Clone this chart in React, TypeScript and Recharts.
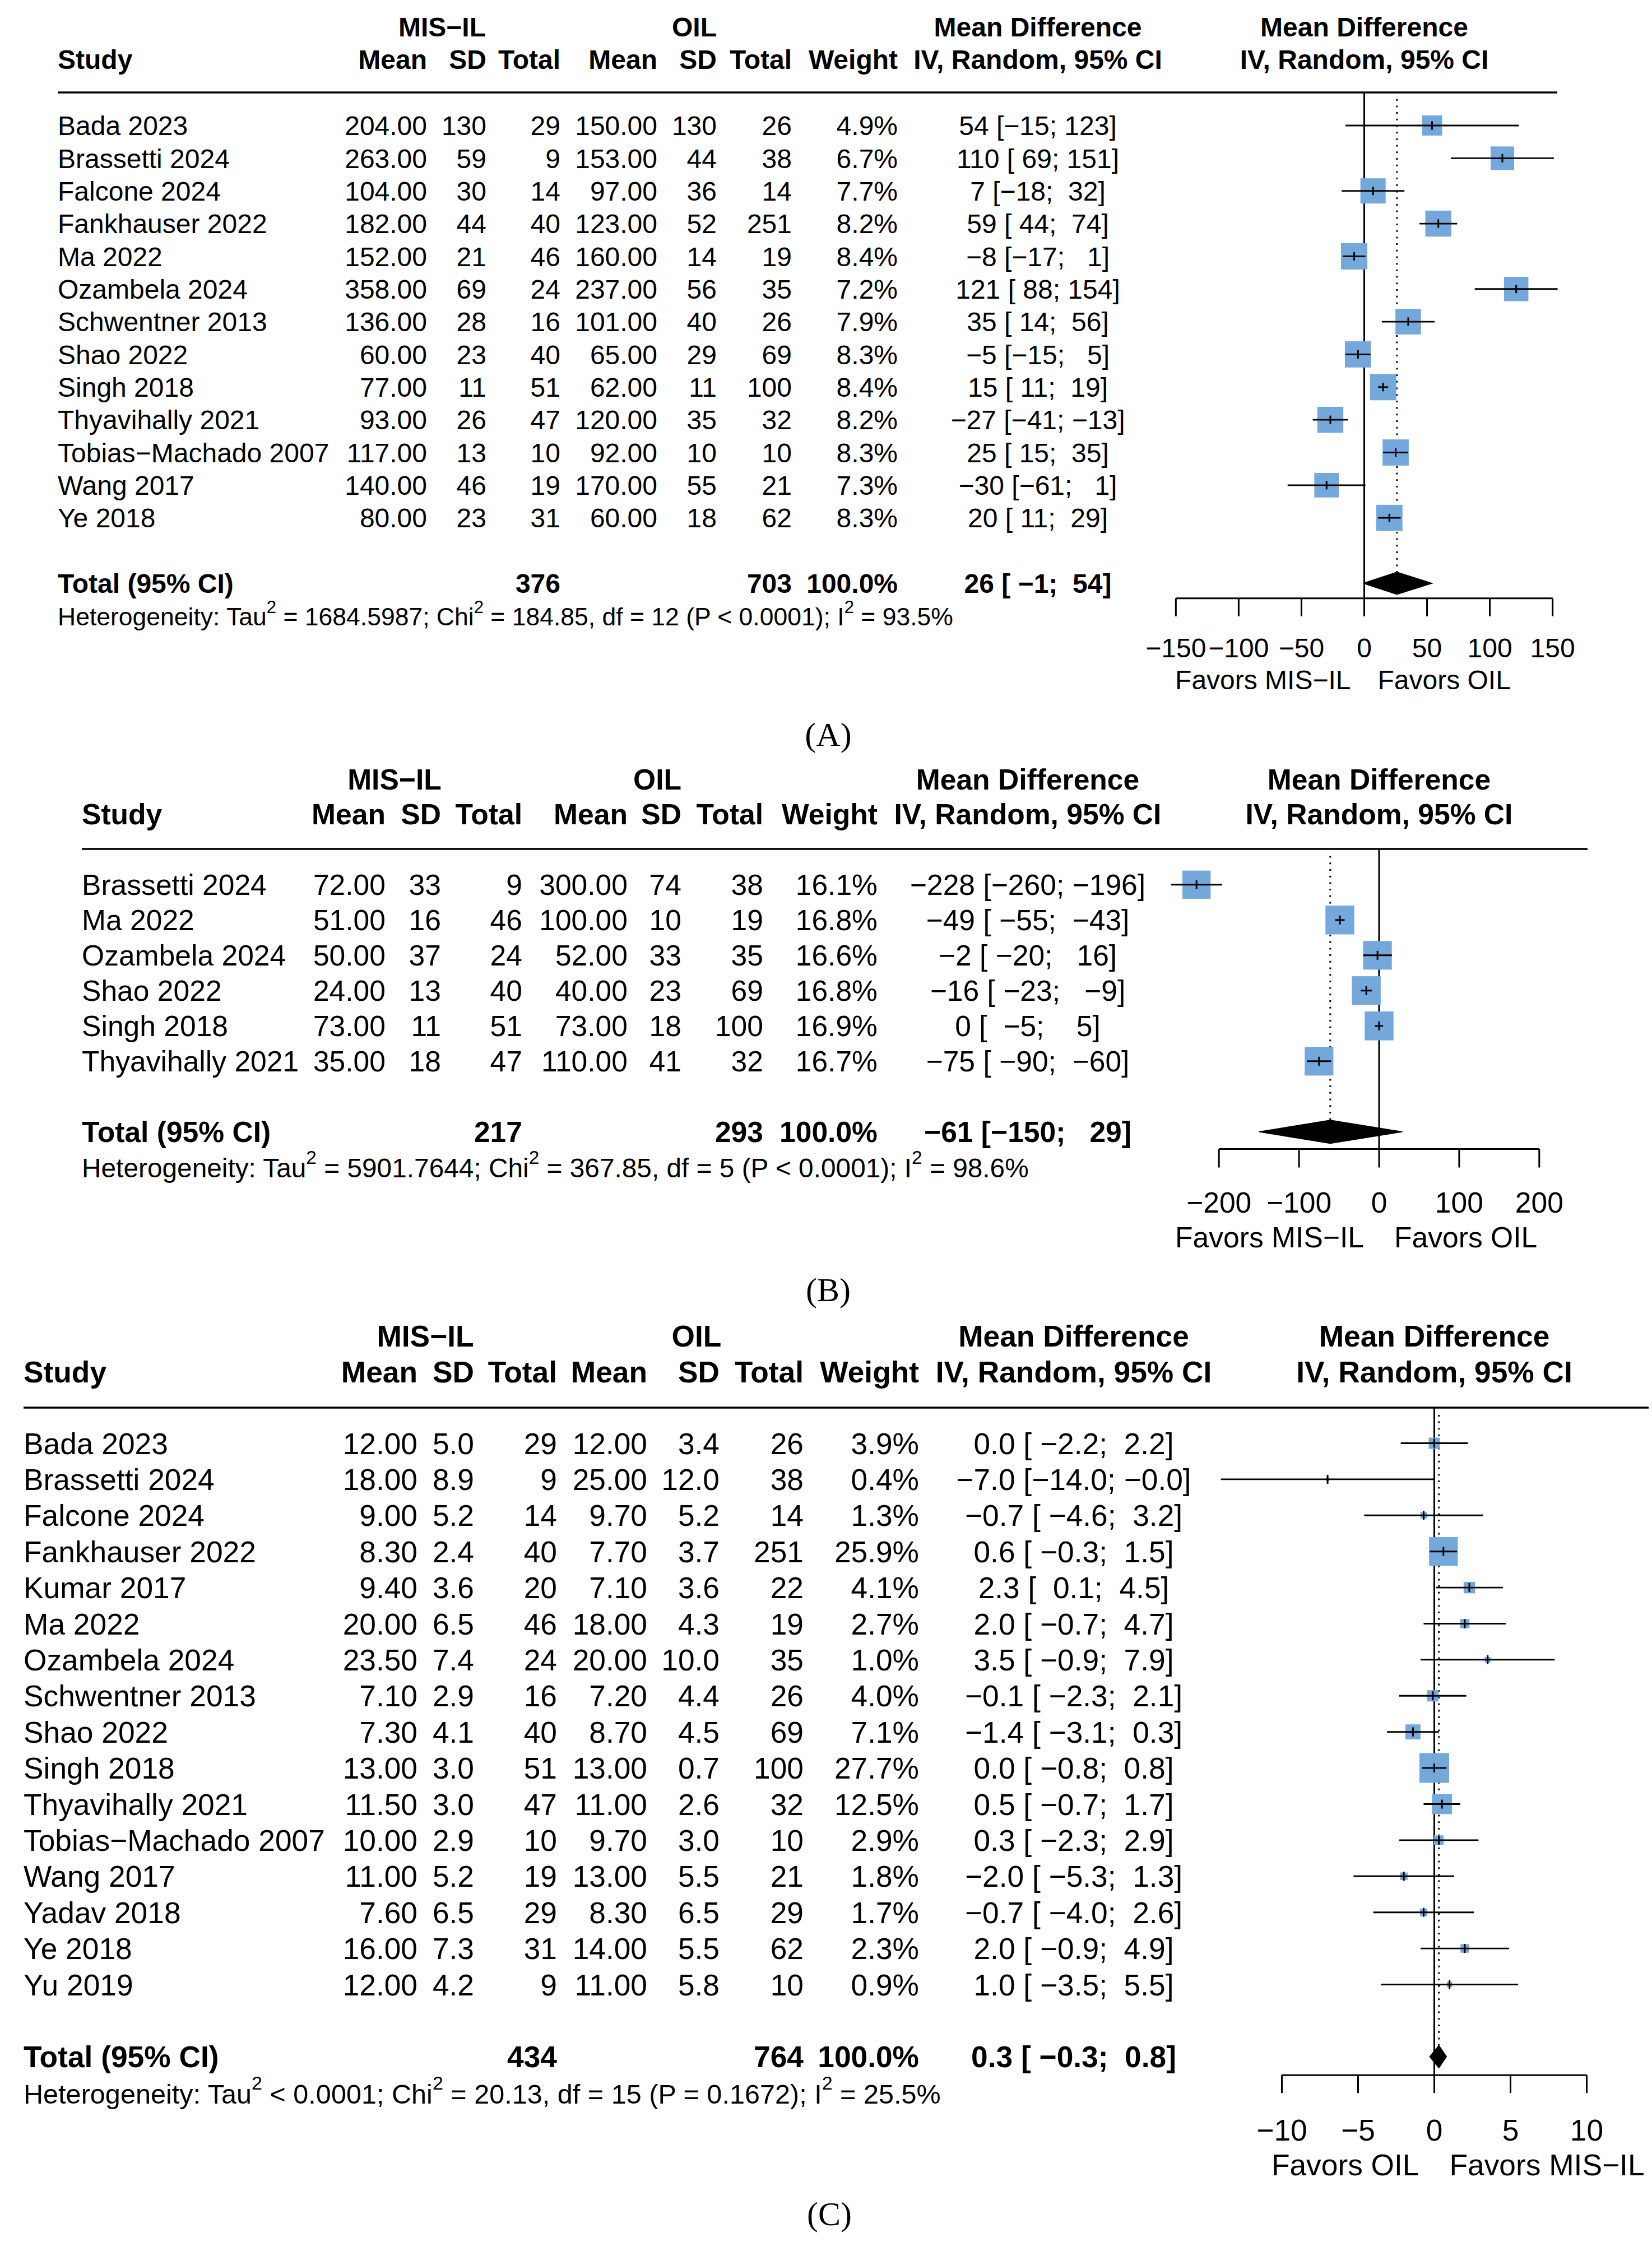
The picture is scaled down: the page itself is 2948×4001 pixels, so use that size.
import React from 'react';
import { ComposedChart, Scatter, XAxis, YAxis, ReferenceLine } from 'recharts';

const MINUS = '\u2212';
const FONT = '"Liberation Sans", Arimo, Arial, Helvetica, sans-serif';
const SERIF = '"Liberation Serif", "Times New Roman", Times, serif';
const SQUARE_FILL = '#74a7da';
const PAGE_W = 2948;

// ---------- shared labels ----------
const GROUP_HEADS = ['MIS' + MINUS + 'IL', 'OIL'];
const COL_HEADS = ['Mean', 'SD', 'Total', 'Mean', 'SD', 'Total', 'Weight'];
const MD_HEADS = ['Mean Difference', 'IV, Random, 95% CI'];
const TOTAL_LABEL = 'Total (95% CI)';
const TOTAL_WEIGHT = '100.0%';

// ---------- Panel A ----------
const A_STUDY = ['Bada 2023', 'Brassetti 2024', 'Falcone 2024', 'Fankhauser 2022', 'Ma 2022', 'Ozambela 2024',
  'Schwentner 2013', 'Shao 2022', 'Singh 2018', 'Thyavihally 2021', 'Tobias' + MINUS + 'Machado 2007', 'Wang 2017', 'Ye 2018'];
const A_M1 = [204, 263, 104, 182, 152, 358, 136, 60, 77, 93, 117, 140, 80];
const A_S1 = [130, 59, 30, 44, 21, 69, 28, 23, 11, 26, 13, 46, 23];
const A_N1 = [29, 9, 14, 40, 46, 24, 16, 40, 51, 47, 10, 19, 31];
const A_M2 = [150, 153, 97, 123, 160, 237, 101, 65, 62, 120, 92, 170, 60];
const A_S2 = [130, 44, 36, 52, 14, 56, 40, 29, 11, 35, 10, 55, 18];
const A_N2 = [26, 38, 14, 251, 19, 35, 26, 69, 100, 32, 10, 21, 62];
const A_W = [4.9, 6.7, 7.7, 8.2, 8.4, 7.2, 7.9, 8.3, 8.4, 8.2, 8.3, 7.3, 8.3];
const A_MD = [54, 110, 7, 59, -8, 121, 35, -5, 15, -27, 25, -30, 20];
const A_LO = [-15, 69, -18, 44, -17, 88, 14, -15, 11, -41, 15, -61, 11];
const A_HI = [123, 151, 32, 74, 1, 154, 56, 5, 19, -13, 35, 1, 29];
const A_TOTAL_N = [376, 703];
const A_POOLED = [26, -1, 54];
const A_HET = ['= 1684.5987', '184.85', '12', '< 0.0001', '93.5%'];
const A_TICKS = [-150, -100, -50, 0, 50, 100, 150];
const A_FAVORS = ['Favors MIS' + MINUS + 'IL', 'Favors OIL'];

// ---------- Panel B ----------
const B_STUDY = ['Brassetti 2024', 'Ma 2022', 'Ozambela 2024', 'Shao 2022', 'Singh 2018', 'Thyavihally 2021'];
const B_M1 = [72, 51, 50, 24, 73, 35];
const B_S1 = [33, 16, 37, 13, 11, 18];
const B_N1 = [9, 46, 24, 40, 51, 47];
const B_M2 = [300, 100, 52, 40, 73, 110];
const B_S2 = [74, 10, 33, 23, 18, 41];
const B_N2 = [38, 19, 35, 69, 100, 32];
const B_W = [16.1, 16.8, 16.6, 16.8, 16.9, 16.7];
const B_MD = [-228, -49, -2, -16, 0, -75];
const B_LO = [-260, -55, -20, -23, -5, -90];
const B_HI = [-196, -43, 16, -9, 5, -60];
const B_TOTAL_N = [217, 293];
const B_POOLED = [-61, -150, 29];
const B_HET = ['= 5901.7644', '367.85', '5', '< 0.0001', '98.6%'];
const B_TICKS = [-200, -100, 0, 100, 200];
const B_FAVORS = ['Favors MIS' + MINUS + 'IL', 'Favors OIL'];

// ---------- Panel C ----------
const C_STUDY = ['Bada 2023', 'Brassetti 2024', 'Falcone 2024', 'Fankhauser 2022', 'Kumar 2017', 'Ma 2022',
  'Ozambela 2024', 'Schwentner 2013', 'Shao 2022', 'Singh 2018', 'Thyavihally 2021', 'Tobias' + MINUS + 'Machado 2007',
  'Wang 2017', 'Yadav 2018', 'Ye 2018', 'Yu 2019'];
const C_M1 = [12.0, 18.0, 9.0, 8.3, 9.4, 20.0, 23.5, 7.1, 7.3, 13.0, 11.5, 10.0, 11.0, 7.6, 16.0, 12.0];
const C_S1 = [5.0, 8.9, 5.2, 2.4, 3.6, 6.5, 7.4, 2.9, 4.1, 3.0, 3.0, 2.9, 5.2, 6.5, 7.3, 4.2];
const C_N1 = [29, 9, 14, 40, 20, 46, 24, 16, 40, 51, 47, 10, 19, 29, 31, 9];
const C_M2 = [12.0, 25.0, 9.7, 7.7, 7.1, 18.0, 20.0, 7.2, 8.7, 13.0, 11.0, 9.7, 13.0, 8.3, 14.0, 11.0];
const C_S2 = [3.4, 12.0, 5.2, 3.7, 3.6, 4.3, 10.0, 4.4, 4.5, 0.7, 2.6, 3.0, 5.5, 6.5, 5.5, 5.8];
const C_N2 = [26, 38, 14, 251, 22, 19, 35, 26, 69, 100, 32, 10, 21, 29, 62, 10];
const C_W = [3.9, 0.4, 1.3, 25.9, 4.1, 2.7, 1.0, 4.0, 7.1, 27.7, 12.5, 2.9, 1.8, 1.7, 2.3, 0.9];
const C_MD = [0.0, -7.0, -0.7, 0.6, 2.3, 2.0, 3.5, -0.1, -1.4, 0.0, 0.5, 0.3, -2.0, -0.7, 2.0, 1.0];
const C_LO = [-2.2, -14.0, -4.6, -0.3, 0.1, -0.7, -0.9, -2.3, -3.1, -0.8, -0.7, -2.3, -5.3, -4.0, -0.9, -3.5];
const C_HI = [2.2, -0.04, 3.2, 1.5, 4.5, 4.7, 7.9, 2.1, 0.3, 0.8, 1.7, 2.9, 1.3, 2.6, 4.9, 5.5];
const C_TOTAL_N = [434, 764];
const C_POOLED = [0.3, -0.3, 0.8];
const C_HET = ['< 0.0001', '20.13', '15', '= 0.1672', '25.5%'];
const C_TICKS = [-10, -5, 0, 5, 10];
const C_FAVORS = ['Favors OIL', 'Favors MIS' + MINUS + 'IL'];

// ---------- helpers ----------
const sgn = (s: string) => s.replace(/-/g, MINUS);
const fx = (v: number, d: number) => sgn(v.toFixed(d));
const padL = (s: string, n: number) => ' '.repeat(Math.max(0, n - s.length)) + s;
const fmtTick = (v: number) => (v < 0 ? MINUS + Math.abs(v) : String(v));

function buildCI(md: number[], lo: number[], hi: number[], pooled: number[], d: number) {
  const los = [...lo, pooled[1]].map((v) => fx(v, d));
  const his = [...hi, pooled[2]].map((v) => fx(v, d));
  const wl = Math.max(...los.map((s) => s.length));
  const wh = Math.max(...his.map((s) => s.length));
  const mds = [...md, pooled[0]].map((v) => fx(v, d));
  return mds.map((m, i) => `${m} [${padL(los[i], wl)}; ${padL(his[i], wh)}]`);
}

type PanelData = {
  study: string[]; m1: number[]; s1: number[]; n1: number[]; m2: number[]; s2: number[]; n2: number[];
  w: number[]; md: number[]; lo: number[]; hi: number[]; totalN: number[]; pooled: number[]; het: string[];
  ticks: number[]; favors: string[]; caption: string; sdDec: number; mdDec: number;
};

const DATA_A: PanelData = { study: A_STUDY, m1: A_M1, s1: A_S1, n1: A_N1, m2: A_M2, s2: A_S2, n2: A_N2, w: A_W, md: A_MD, lo: A_LO, hi: A_HI, totalN: A_TOTAL_N, pooled: A_POOLED, het: A_HET, ticks: A_TICKS, favors: A_FAVORS, caption: '(A)', sdDec: 0, mdDec: 0 };
const DATA_B: PanelData = { study: B_STUDY, m1: B_M1, s1: B_S1, n1: B_N1, m2: B_M2, s2: B_S2, n2: B_N2, w: B_W, md: B_MD, lo: B_LO, hi: B_HI, totalN: B_TOTAL_N, pooled: B_POOLED, het: B_HET, ticks: B_TICKS, favors: B_FAVORS, caption: '(B)', sdDec: 0, mdDec: 0 };
const DATA_C: PanelData = { study: C_STUDY, m1: C_M1, s1: C_S1, n1: C_N1, m2: C_M2, s2: C_S2, n2: C_N2, w: C_W, md: C_MD, lo: C_LO, hi: C_HI, totalN: C_TOTAL_N, pooled: C_POOLED, het: C_HET, ticks: C_TICKS, favors: C_FAVORS, caption: '(C)', sdDec: 1, mdDec: 1 };

// ---------- layout (pixels) ----------
const LAYOUT_A = {
  top: 0, height: 1350, fs: 48, hetFs: 44.5, capFs: 60,
  zeroPx: 2434.5, ppu: 2.241, dom: [-150, 156],
  row0: 224, rowH: 58.35, yMin: -1.011, yMax: 14.46, totalRow: 14,
  studyX: 103, cols: [762, 868, 1000, 1173, 1279, 1413, 1602], mdX: 1852, grp: [789, 1239],
  head1: 100, head2: 42, ruleX: [103, 2779],
  tickSize: 32, tickMargin: 39, favorsDy: 189, favorsGap: 24, captionDy: 290, captionX: 1478,
  maxSide: 47, dH: 0.34, lw: 2.8, tickHalf: 7.5,
};
const LAYOUT_B = {
  top: 1350, height: 990, fs: 51.6, hetFs: 47.8, capFs: 60,
  zeroPx: 2461, ppu: 1.429, dom: [-262, 200],
  row0: 1578.8, rowH: 63.0, yMin: -1.013, yMax: 7.487, totalRow: 7,
  studyX: 146, cols: [688, 787, 932, 1120, 1216, 1362, 1566], mdX: 1834, grp: [704, 1173],
  head1: 105.5, head2: 43.5, ruleX: [146, 2833],
  tickSize: 33, tickMargin: 44, favorsDy: 206, favorsGap: 27, captionDy: 302, captionX: 1478,
  maxSide: 51.5, dH: 0.33, lw: 2.9, tickHalf: 8,
};
const LAYOUT_C = {
  top: 2340, height: 1661, fs: 53.3, hetFs: 48.6, capFs: 60,
  zeroPx: 2559.5, ppu: 27.2, dom: [-14.2, 10],
  row0: 2575.5, rowH: 64.4, yMin: -0.986, yMax: 17.51, totalRow: 17,
  studyX: 42, cols: [745, 846, 994, 1155, 1284, 1434, 1640], mdX: 1916, grp: [759, 1243],
  head1: 109, head2: 45, ruleX: [42, 2942],
  tickSize: 32, tickMargin: 47, favorsDy: 212, favorsGap: 27, captionDy: 301, captionX: 1480,
  maxSide: 53, dH: 0.31, lw: 2.9, tickHalf: 8,
};

type Layout = typeof LAYOUT_A;

function HetText({ x, y, fs, het }: { x: number; y: number; fs: number; het: string[] }) {
  const sup = fs * 0.7;
  const up = fs * 0.5;
  return (
    <text x={x} y={y} fontFamily={FONT} fontSize={fs} fill="#000" style={{ whiteSpace: 'pre' }}>
      <tspan>Heterogeneity: Tau</tspan>
      <tspan dy={-up} fontSize={sup}>2</tspan>
      <tspan dy={up}>{` ${het[0]}; Chi`}</tspan>
      <tspan dy={-up} fontSize={sup}>2</tspan>
      <tspan dy={up}>{` = ${het[1]}, df = ${het[2]} (P ${het[3]}); I`}</tspan>
      <tspan dy={-up} fontSize={sup}>2</tspan>
      <tspan dy={up}>{` = ${het[4]}`}</tspan>
    </text>
  );
}

function TextRow({ p, L, D, ci }: { p: any; L: Layout; D: PanelData; ci: string[] }) {
  const { cx, cy, payload } = p;
  const fs = L.fs;
  const base = cy + 0.358 * fs;
  const common: any = { fontFamily: FONT, fontSize: fs, fill: '#000', style: { whiteSpace: 'pre' } };
  const bold: any = { ...common, fontWeight: 'bold' };
  if (payload.kind === 'h') {
    const b1 = cy - L.head1;
    const b2 = cy - L.head2;
    return (
      <g>
        <line x1={L.ruleX[0]} x2={L.ruleX[1]} y1={cy} y2={cy} stroke="#000" strokeWidth={3.3} />
        <text {...bold} x={L.grp[0]} y={b1} textAnchor="middle">{GROUP_HEADS[0]}</text>
        <text {...bold} x={L.grp[1]} y={b1} textAnchor="middle">{GROUP_HEADS[1]}</text>
        <text {...bold} x={L.mdX} y={b1} textAnchor="middle">{MD_HEADS[0]}</text>
        <text {...bold} x={cx} y={b1} textAnchor="middle">{MD_HEADS[0]}</text>
        <text {...bold} x={L.studyX} y={b2}>Study</text>
        {COL_HEADS.map((h, k) => (
          <text key={k} {...bold} x={L.cols[k]} y={b2} textAnchor="end">{h}</text>
        ))}
        <text {...bold} x={L.mdX} y={b2} textAnchor="middle">{MD_HEADS[1]}</text>
        <text {...bold} x={cx} y={b2} textAnchor="middle">{MD_HEADS[1]}</text>
      </g>
    );
  }
  if (payload.kind === 's') {
    const i = payload.i;
    const vals = [
      D.m1[i].toFixed(2), D.s1[i].toFixed(D.sdDec), String(D.n1[i]),
      D.m2[i].toFixed(2), D.s2[i].toFixed(D.sdDec), String(D.n2[i]),
      D.w[i].toFixed(1) + '%',
    ];
    return (
      <g>
        <text {...common} x={L.studyX} y={base}>{D.study[i]}</text>
        {vals.map((v, k) => (
          <text key={k} {...common} x={L.cols[k]} y={base} textAnchor="end">{v}</text>
        ))}
        <text {...common} x={L.mdX} y={base} textAnchor="middle">{ci[i]}</text>
      </g>
    );
  }
  // total row + footer
  const favY = cy + L.favorsDy;
  return (
    <g>
      <text {...bold} x={L.studyX} y={base}>{TOTAL_LABEL}</text>
      <text {...bold} x={L.cols[2]} y={base} textAnchor="end">{String(D.totalN[0])}</text>
      <text {...bold} x={L.cols[5]} y={base} textAnchor="end">{String(D.totalN[1])}</text>
      <text {...bold} x={L.cols[6]} y={base} textAnchor="end">{TOTAL_WEIGHT}</text>
      <text {...bold} x={L.mdX} y={base} textAnchor="middle">{ci[ci.length - 1]}</text>
      <HetText x={L.studyX} y={base + L.rowH} fs={L.hetFs} het={D.het} />
      <text {...common} x={cx - L.favorsGap} y={favY} textAnchor="end">{D.favors[0]}</text>
      <text {...common} x={cx + L.favorsGap} y={favY} textAnchor="start">{D.favors[1]}</text>
      <text x={L.captionX} y={cy + L.captionDy} textAnchor="middle" fontFamily={SERIF} fontSize={L.capFs} fill="#000">{D.caption}</text>
    </g>
  );
}

function Panel({ L, D }: { L: Layout; D: PanelData }) {
  const ruleY = L.row0 + L.yMin * L.rowH;
  const axisY = L.row0 + L.yMax * L.rowH;
  const pxMin = L.zeroPx + L.dom[0] * L.ppu;
  const pxMax = L.zeroPx + L.dom[1] * L.ppu;
  const margin = { top: ruleY - L.top, bottom: 0, left: pxMin, right: PAGE_W - pxMax };
  const xAxisH = L.top + L.height - axisY;
  const ci = buildCI(D.md, D.lo, D.hi, D.pooled, D.mdDec);
  const wMax = Math.max(...D.w);
  const sqData = D.md.map((v, i) => ({ x: v, y: i, w: D.w[i] }));
  const estData = D.md.map((v, i) => ({ x: v, y: i }));
  const [tm, tl, th] = D.pooled;
  const tr = L.totalRow;
  const diamond = [
    { x: tl, y: tr }, { x: tm, y: tr - L.dH }, { x: th, y: tr }, { x: tm, y: tr + L.dH }, { x: tl, y: tr },
  ];
  const textData = [
    { x: 0, y: L.yMin, kind: 'h' },
    ...D.study.map((s, i) => ({ x: 0, y: i, kind: 's', i })),
    { x: 0, y: tr, kind: 't' },
  ];
  const tickFirst = D.ticks[0];
  const tickLast = D.ticks[D.ticks.length - 1];
  return (
    <div style={{ position: 'absolute', left: 0, top: L.top, width: PAGE_W, height: L.height }}>
      <ComposedChart width={PAGE_W} height={L.height} margin={margin}>
        <XAxis
          type="number" dataKey="x" domain={L.dom} ticks={D.ticks} interval={0}
          axisLine={false} stroke="#000" tickLine={{ stroke: '#000', strokeWidth: 3 }}
          tickSize={L.tickSize} tickMargin={L.tickMargin}
          tick={{ fill: '#000', fontSize: L.fs, fontFamily: FONT }}
          tickFormatter={fmtTick} height={xAxisH}
        />
        <YAxis type="number" dataKey="y" domain={[L.yMin, L.yMax]} reversed hide width={0} />
        <ReferenceLine x={0} stroke="#000" strokeWidth={3} />
        <ReferenceLine
          segment={[{ x: tm, y: L.yMin + 0.2 }, { x: tm, y: tr - L.dH }]}
          stroke="#000" strokeWidth={3} strokeDasharray="3 8.7"
        />
        <ReferenceLine
          segment={[{ x: tickFirst, y: L.yMax }, { x: tickLast, y: L.yMax }]}
          stroke="#000" strokeWidth={3}
        />
        <Scatter
          data={sqData} isAnimationActive={false} fill={SQUARE_FILL}
          shape={(p: any) => {
            const side = L.maxSide * Math.sqrt(p.payload.w / wMax);
            return <rect x={p.cx - side / 2} y={p.cy - side / 2} width={side} height={side} fill={SQUARE_FILL} />;
          }}
        />
        {D.md.map((v, i) => (
          <Scatter
            key={'ci' + i}
            data={[{ x: D.lo[i], y: i }, { x: D.hi[i], y: i }]}
            isAnimationActive={false} fill="#000"
            line={{ stroke: '#000', strokeWidth: L.lw, fill: 'none' }} lineJointType="linear"
            shape={() => <g />}
          />
        ))}
        <Scatter
          data={estData} isAnimationActive={false} fill="#000"
          shape={(p: any) => (
            <line x1={p.cx} x2={p.cx} y1={p.cy - L.tickHalf} y2={p.cy + L.tickHalf} stroke="#000" strokeWidth={3} />
          )}
        />
        <Scatter
          data={diamond} isAnimationActive={false} fill="#000"
          line={{ fill: '#000', stroke: '#000', strokeWidth: 1.5 }} lineJointType="linear"
          shape={() => <g />}
        />
        <Scatter
          data={textData} isAnimationActive={false} fill="#000"
          shape={(p: any) => <TextRow p={p} L={L} D={D} ci={ci} />}
        />
      </ComposedChart>
    </div>
  );
}

export default function App() {
  return (
    <div style={{ position: 'relative', width: PAGE_W, height: 4001, background: '#fff', overflow: 'hidden' }}>
      <style>{'html,body{margin:0;padding:0;background:#fff}'}</style>
      <Panel L={LAYOUT_A} D={DATA_A} />
      <Panel L={LAYOUT_B} D={DATA_B} />
      <Panel L={LAYOUT_C} D={DATA_C} />
    </div>
  );
}
